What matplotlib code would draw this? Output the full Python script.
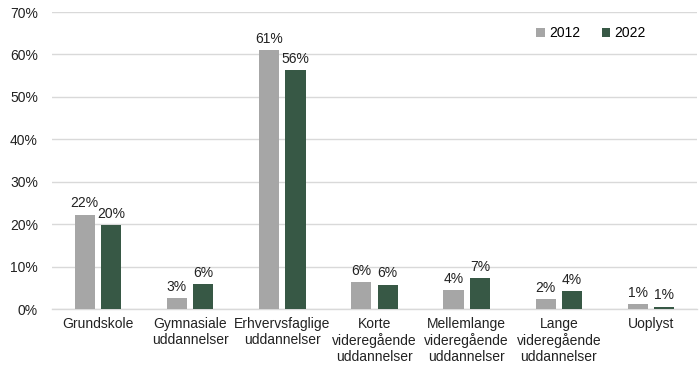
import matplotlib
matplotlib.use("Agg")
import matplotlib.pyplot as plt
import numpy as np

plt.rcParams['font.family'] = ['Liberation Sans', 'DejaVu Sans']

categories = ["Grundskole", "Gymnasiale\nuddannelser", "Erhvervsfaglige\nuddannelser",
              "Korte\nvideregående\nuddannelser", "Mellemlange\nvideregående\nuddannelser",
              "Lange\nvideregående\nuddannelser", "Uoplyst"]
series_names = ["2012", "2022"]
values_2012 = [22.3, 2.7, 61.1, 6.4, 4.4, 2.4, 1.1]
values_2022 = [19.8, 6.0, 56.3, 5.8, 7.4, 4.3, 0.6]
yticks = [0, 10, 20, 30, 40, 50, 60, 70]
colors = ["#a6a6a6", "#375845"]

fig = plt.figure(figsize=(7, 3.65), dpi=100)
ax = fig.add_axes([0.074, 0.153, 0.922, 0.814])

x = np.arange(len(categories))
w = 0.22
off = 0.143
for vals, name, col, o in [(values_2012, series_names[0], colors[0], -off),
                           (values_2022, series_names[1], colors[1], off)]:
    bars = ax.bar(x + o, vals, w, color=col, label=name, zorder=3)
    for b, v in zip(bars, vals):
        ax.annotate(f"{v:.0f}%", (b.get_x() + b.get_width() / 2, v),
                    xytext=(0, 3), textcoords="offset points",
                    ha="center", va="bottom", fontsize=10, color="#222222")

ax.set_xlim(-0.5, len(categories) - 0.5)
ax.set_ylim(0, 70)
ax.set_yticks(yticks)
ax.set_yticklabels([f"{t}%" for t in yticks], fontsize=10, color="#222222")
ax.set_xticks(x)
ax.set_xticklabels(categories, fontsize=10, color="#222222", linespacing=1.15)
ax.tick_params(axis="x", length=0, pad=6)
ax.tick_params(axis="y", length=0, pad=10)
ax.yaxis.grid(True, color="#d9d9d9", linewidth=1, zorder=0)
for s in ["top", "right", "left"]:
    ax.spines[s].set_visible(False)
ax.spines["bottom"].set_color("#d9d9d9")
ax.spines["bottom"].set_linewidth(1)

leg = ax.legend(loc="upper right", bbox_to_anchor=(0.94, 0.995), ncol=2, frameon=False,
                fontsize=10, handlelength=0.6, handleheight=0.6, handletextpad=0.3,
                columnspacing=1.6)

fig.savefig("out.png", dpi=100)
